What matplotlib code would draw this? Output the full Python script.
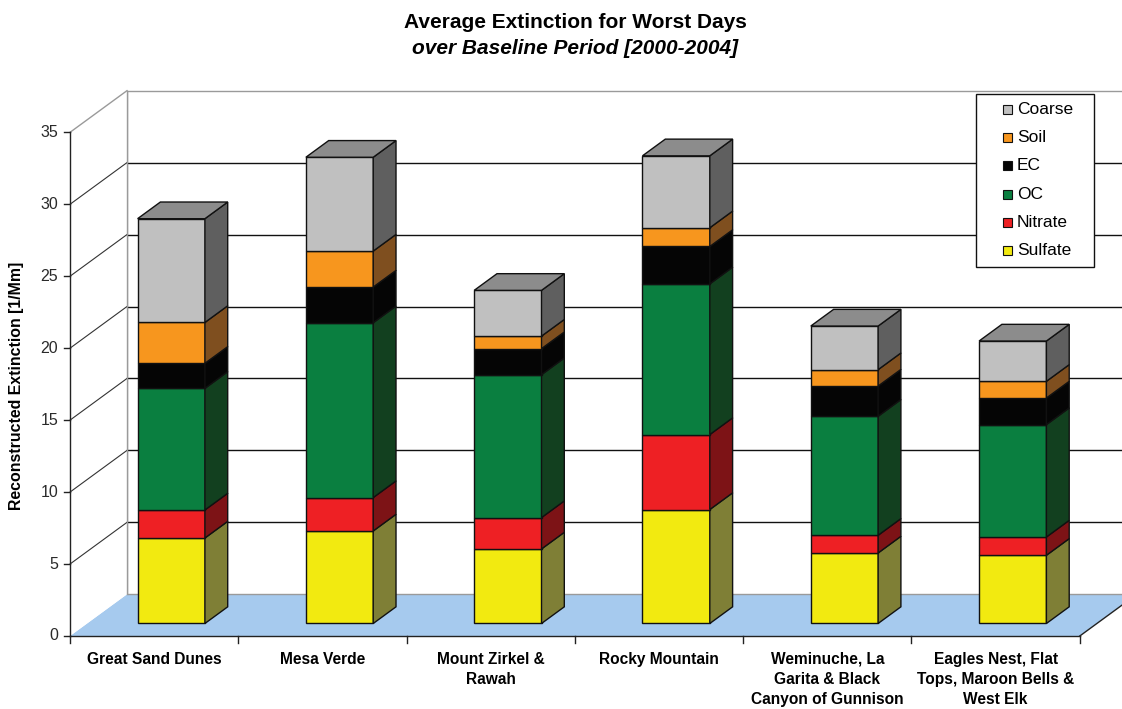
import numpy as np
import matplotlib.pyplot as plt
from matplotlib.patches import Polygon, Rectangle

plt.rcParams['font.family'] = ['Liberation Sans', 'DejaVu Sans']

# sites and stacked extinction components [1/Mm]
sites = ["Great Sand Dunes", "Mesa Verde", "Mount Zirkel &\nRawah", "Rocky Mountain",
         "Weminuche, La\nGarita & Black\nCanyon of Gunnison",
         "Eagles Nest, Flat\nTops, Maroon Bells &\nWest Elk"]
species = ["Sulfate", "Nitrate", "OC", "EC", "Soil", "Coarse"]
sulfate = [5.94, 6.43, 5.18, 7.92, 4.90, 4.74]
nitrate = [1.95, 2.32, 2.18, 5.21, 1.23, 1.27]
oc      = [8.45, 12.15, 9.93, 10.47, 8.27, 7.81]
ec      = [1.74, 2.48, 1.81, 2.60, 2.10, 1.85]
soil    = [2.84, 2.50, 0.87, 1.30, 1.14, 1.16]
coarse  = [7.21, 6.52, 3.18, 5.00, 3.03, 2.80]
series = [sulfate, nitrate, oc, ec, soil, coarse]
yticks = [0, 5, 10, 15, 20, 25, 30, 35]

front_col = ['#f2ea10', '#ee2024', '#0a7f40', '#050505', '#f7961e', '#c0c0c0']
side_col  = ['#7f7f36', '#7d1316', '#12401f', '#050505', '#7f4f1f', '#5f5f5f']
top_col   = ['#b5b020', '#b01a1d', '#0d6030', '#303030', '#b87226', '#8c8c8c']

W, H = 1122, 709
X0, Y0 = 70, 636          # pixel position of the origin (front plane)
SX, SY = 168.3, 14.39     # pixels per category / per unit
DX, DY = 57 / SX, 41.7 / SY   # depth vector in data units
YMAX = 35
ncat = len(sites)

fig = plt.figure(figsize=(W / 100, H / 100), dpi=100)
ax = fig.add_axes([0, 0, 1, 1])
ax.set_xlim(-X0 / SX, (W - X0) / SX)
ax.set_ylim(-(H - Y0) / SY, Y0 / SY)
ax.axis('off')


def P(x, y, d):
    return (x + d * DX, y + d * DY)


# floor, walls
ax.add_patch(Polygon([P(0, 0, 0), P(ncat, 0, 0), P(ncat, 0, 1), P(0, 0, 1)],
                     fc='#a6caee', ec='none', zorder=1))
ax.add_patch(Polygon([P(0, 0, 1), P(ncat, 0, 1), P(ncat, YMAX, 1), P(0, YMAX, 1)],
                     fc='white', ec='#9a9a9a', lw=1, zorder=1))
ax.add_patch(Polygon([P(0, 0, 0), P(0, 0, 1), P(0, YMAX, 1), P(0, YMAX, 0)],
                     fc='white', ec='none', zorder=1))
for v in yticks[1:-1]:
    xs, ys = zip(P(0, v, 1), P(ncat, v, 1))
    ax.plot(xs, ys, color='#111111', lw=1, zorder=2)
    xs, ys = zip(P(0, v, 0), P(0, v, 1))
    ax.plot(xs, ys, color='#333333', lw=0.8, zorder=2)
xs, ys = zip(P(0, YMAX, 0), P(0, YMAX, 1))
ax.plot(xs, ys, color='#9a9a9a', lw=1, zorder=2)
xs, ys = zip(P(0, 0, 1), P(0, YMAX, 1))
ax.plot(xs, ys, color='#9a9a9a', lw=1, zorder=2)
xs, ys = zip(P(ncat, 0, 0), P(ncat, 0, 1))
ax.plot(xs, ys, color='#222222', lw=1, zorder=2)

# axes lines and ticks
ax.plot([0, 0], [0, YMAX], color='#222222', lw=1, zorder=3)
ax.plot([0, ncat], [0, 0], color='#222222', lw=1, zorder=3)
for v in yticks:
    ax.plot([-6 / SX, 0], [v, v], color='#222222', lw=1, zorder=3)
    ax.text(-12 / SX, v, str(v), ha='right', va='center', fontsize=11.5, color='#2a2a2a')
for k in range(ncat + 1):
    ax.plot([k, k], [0, -7 / SY], color='#222222', lw=1, zorder=3)
for k, name in enumerate(sites):
    ax.text(k + 0.5, -16 / SY, name, ha='center', va='top', fontsize=11.2,
            fontweight='bold', linespacing=1.4)

# stacked 3-D bars
w, d0, d1 = 0.4, 0.3, 0.7
xc = np.arange(ncat) + 0.5
bottom = np.zeros(ncat)
for s, vals in enumerate(series):
    vals = np.array(vals)
    ax.bar(xc + d0 * DX, vals, width=w, bottom=bottom + d0 * DY, color=front_col[s],
           edgecolor='#111111', linewidth=1, zorder=5)
    for i in range(ncat):
        x1 = xc[i] + w / 2
        b, t = bottom[i], bottom[i] + vals[i]
        ax.add_patch(Polygon([P(x1, b, d0), P(x1, b, d1), P(x1, t, d1), P(x1, t, d0)],
                             fc=side_col[s], ec='#111111', lw=1, zorder=5))
        if s == len(series) - 1:
            x0 = xc[i] - w / 2
            ax.add_patch(Polygon([P(x0, t, d0), P(x1, t, d0), P(x1, t, d1), P(x0, t, d1)],
                                 fc=top_col[s], ec='#111111', lw=1, zorder=5))
    bottom += vals

# titles
fig.text(575 / W, 1 - 23 / H, "Average Extinction for Worst Days", ha='center', va='center',
         fontsize=15, fontweight='bold')
fig.text(575 / W, 1 - 48 / H, "over Baseline Period [2000-2004]", ha='center', va='center',
         fontsize=15, fontweight='bold', fontstyle='italic')
fig.text(17 / W, 1 - 386 / H, "Reconstructed Extinction [1/Mm]", ha='center', va='center',
         rotation=90, fontsize=11.4, fontweight='bold')

# legend box
tf = fig.transFigure
fig.patches.append(Rectangle((976 / W, 1 - 267 / H), 118 / W, 173 / H, transform=tf,
                             fc='white', ec='#111111', lw=1, zorder=6))
for j, s in enumerate(reversed(range(len(species)))):
    yc = 109.3 + 28.3 * j
    fig.patches.append(Rectangle((1003 / W, 1 - (yc + 4.5) / H), 9 / W, 9 / H, transform=tf,
                                 fc=front_col[s], ec='#111111', lw=0.8, zorder=7))
    fig.text(1017 / W, 1 - yc / H, species[s], ha='left', va='center', fontsize=12.5, zorder=7)

fig.savefig('out.png', dpi=100)
